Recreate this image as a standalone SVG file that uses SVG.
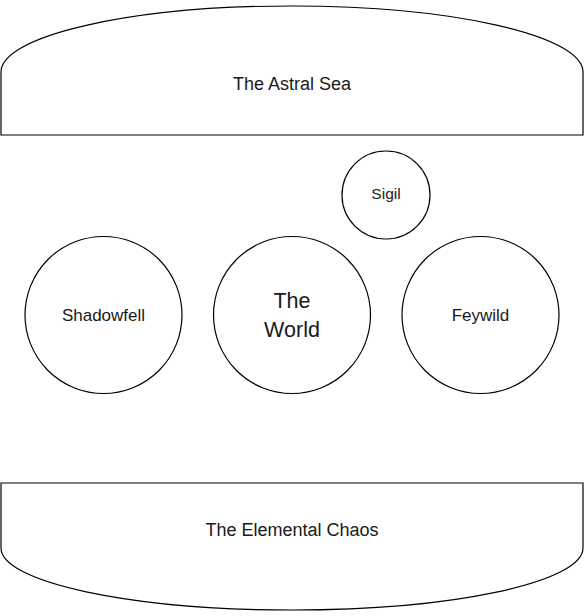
<svg xmlns="http://www.w3.org/2000/svg" width="584" height="616" viewBox="0 0 584 616">
<style>
.shape{fill:#fff;stroke:#000;stroke-width:1.2}
.lbl{font-family:"Liberation Sans",Arial,sans-serif;fill:#1a1a1a;text-anchor:middle}
</style>
<rect width="584" height="616" fill="#fff"/>
<g id="astral-sea">
<path class="shape" d="M1,135 L1,72 A291,66 0 0 1 583,72 L583,135 Z"/>
<text class="lbl" x="292" y="90" font-size="18">The Astral Sea</text>
</g>
<g id="sigil">
<circle class="shape" cx="386" cy="195" r="44"/>
<text class="lbl" x="386" y="199" font-size="15.5">Sigil</text>
</g>
<g id="shadowfell">
<circle class="shape" cx="103.5" cy="315" r="78.5"/>
<text class="lbl" x="103.5" y="321" font-size="17">Shadowfell</text>
</g>
<g id="the-world">
<circle class="shape" cx="292" cy="315" r="78.5"/>
<text class="lbl" x="292" y="308" font-size="21.5">The</text>
<text class="lbl" x="292" y="337" font-size="21.5">World</text>
</g>
<g id="feywild">
<circle class="shape" cx="480.5" cy="315" r="78.5"/>
<text class="lbl" x="480.5" y="321" font-size="17">Feywild</text>
</g>
<g id="elemental-chaos">
<path class="shape" d="M1,483 L1,548 A291,62 0 0 0 583,548 L583,483 Z"/>
<text class="lbl" x="292" y="536" font-size="18">The Elemental Chaos</text>
</g>
<g id="connectors"></g>
</svg>
